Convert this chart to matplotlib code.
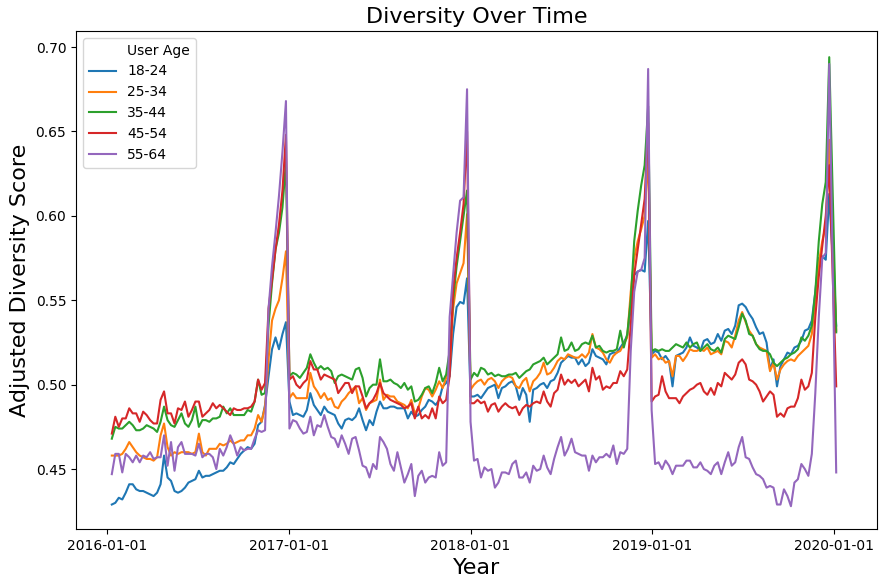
import matplotlib
matplotlib.use("Agg")
import matplotlib.pyplot as plt
import matplotlib.dates as mdates
from matplotlib.lines import Line2D
import pandas as pd

dates = pd.date_range("2016-01-11", periods=209, freq="7D")
legend_title = "User Age"
labels = ["18-24", "25-34", "35-44", "45-54", "55-64"]

age_18_24 = [
    .429, .430, .433, .432, .436, .441, .441, .438, .437, .437,
    .436, .435, .434, .436, .441, .458, .445, .443, .437, .436,
    .437, .439, .442, .443, .444, .449, .445, .446, .446, .447,
    .448, .449, .449, .451, .454, .453, .456, .459, .461, .463,
    .462, .465, .476, .478, .488, .505, .521, .528, .521, .530,
    .537, .490, .482, .483, .482, .481, .485, .495, .488, .485,
    .482, .487, .484, .483, .482, .477, .474, .479, .480, .479,
    .481, .486, .479, .473, .479, .476, .484, .490, .486, .486,
    .487, .487, .486, .486, .486, .480, .484, .481, .482, .485,
    .487, .491, .490, .488, .491, .499, .501, .505, .530, .546,
    .549, .548, .563, .493, .493, .494, .492, .495, .498, .499,
    .500, .492, .498, .499, .501, .502, .499, .491, .498, .494,
    .478, .497, .498, .500, .501, .498, .502, .503, .507, .513,
    .515, .517, .516, .516, .512, .515, .511, .513, .521, .517,
    .516, .515, .512, .518, .519, .519, .522, .525, .529, .545,
    .565, .567, .568, .567, .597, .518, .520, .519, .515, .517,
    .514, .499, .517, .518, .519, .522, .528, .523, .522, .520,
    .526, .527, .524, .525, .530, .526, .532, .533, .530, .535,
    .547, .548, .546, .542, .539, .534, .530, .531, .525, .509,
    .515, .499, .511, .515, .519, .518, .522, .523, .526, .532,
    .533, .538, .555, .575, .576, .574, .613, .575, .535,
]

age_25_34 = [
    .458, .458, .458, .459, .462, .466, .463, .460, .458, .457,
    .456, .456, .455, .457, .470, .477, .463, .458, .460, .459,
    .460, .460, .460, .459, .460, .471, .460, .458, .462, .462,
    .462, .465, .464, .465, .467, .465, .466, .467, .467, .470,
    .470, .474, .482, .478, .487, .515, .538, .545, .550, .563,
    .579, .492, .495, .492, .492, .492, .492, .507, .499, .496,
    .492, .495, .491, .492, .487, .486, .490, .492, .495, .497,
    .499, .489, .492, .485, .489, .490, .491, .503, .491, .494,
    .493, .493, .490, .489, .488, .486, .491, .483, .486, .493,
    .498, .497, .493, .497, .502, .498, .504, .510, .545, .560,
    .566, .572, .601, .497, .500, .502, .503, .500, .503, .504,
    .502, .498, .502, .504, .505, .504, .499, .498, .502, .504,
    .496, .502, .504, .507, .513, .506, .507, .510, .514, .516,
    .515, .518, .517, .516, .516, .518, .516, .519, .530, .522,
    .521, .519, .515, .513, .517, .519, .520, .524, .528, .555,
    .575, .585, .592, .600, .637, .516, .518, .515, .516, .513,
    .514, .505, .517, .517, .514, .517, .521, .520, .520, .521,
    .520, .522, .518, .519, .520, .518, .526, .525, .522, .529,
    .538, .543, .537, .532, .529, .524, .522, .521, .520, .508,
    .513, .503, .509, .512, .514, .515, .514, .517, .519, .521,
    .523, .530, .550, .572, .585, .594, .645, .590, .532,
]

age_35_44 = [
    .468, .475, .474, .474, .476, .478, .476, .473, .473, .474,
    .476, .475, .474, .472, .478, .487, .479, .476, .475, .479,
    .483, .477, .475, .479, .487, .475, .479, .479, .478, .480,
    .480, .481, .487, .483, .486, .482, .482, .482, .482, .485,
    .484, .490, .503, .494, .495, .535, .560, .580, .590, .605,
    .632, .505, .507, .506, .504, .507, .510, .518, .513, .509,
    .511, .509, .510, .508, .501, .505, .506, .505, .504, .503,
    .509, .510, .504, .493, .498, .500, .500, .515, .502, .502,
    .503, .501, .500, .498, .501, .497, .499, .490, .491, .494,
    .498, .499, .495, .501, .510, .502, .506, .520, .550, .570,
    .585, .600, .615, .503, .507, .505, .510, .509, .506, .507,
    .505, .506, .505, .505, .506, .506, .507, .504, .506, .508,
    .509, .512, .513, .514, .516, .512, .514, .516, .518, .528,
    .520, .521, .525, .520, .521, .524, .525, .524, .529, .522,
    .523, .520, .519, .520, .520, .521, .532, .522, .530, .550,
    .585, .603, .618, .630, .665, .520, .521, .520, .521, .520,
    .520, .522, .524, .523, .522, .525, .522, .524, .525, .520,
    .522, .524, .521, .520, .522, .519, .527, .529, .528, .527,
    .534, .542, .538, .530, .529, .524, .521, .520, .520, .518,
    .513, .511, .513, .515, .516, .518, .519, .521, .528, .526,
    .529, .535, .555, .585, .607, .620, .694, .612, .531,
]

age_45_54 = [
    .471, .481, .475, .480, .480, .486, .483, .483, .478, .484,
    .482, .479, .477, .477, .491, .496, .483, .483, .477, .486,
    .485, .490, .481, .485, .490, .490, .481, .483, .485, .489,
    .486, .488, .486, .484, .482, .486, .485, .485, .486, .486,
    .487, .490, .503, .497, .501, .545, .562, .580, .595, .615,
    .648, .503, .505, .500, .498, .501, .503, .514, .509, .509,
    .503, .506, .505, .504, .503, .495, .498, .501, .501, .495,
    .499, .499, .493, .486, .489, .491, .495, .501, .495, .493,
    .491, .490, .489, .488, .486, .487, .489, .480, .487, .480,
    .482, .480, .486, .480, .493, .489, .491, .505, .556, .575,
    .590, .607, .650, .489, .489, .491, .489, .490, .484, .488,
    .489, .484, .487, .489, .487, .486, .487, .482, .486, .488,
    .487, .489, .490, .489, .496, .490, .487, .495, .497, .506,
    .500, .503, .501, .503, .499, .501, .503, .496, .510, .503,
    .505, .497, .499, .498, .501, .501, .508, .505, .509, .535,
    .565, .580, .595, .610, .655, .490, .493, .494, .505, .496,
    .492, .492, .492, .489, .493, .495, .497, .498, .500, .501,
    .496, .494, .498, .494, .501, .499, .507, .505, .503, .506,
    .513, .515, .512, .503, .502, .500, .496, .490, .493, .496,
    .494, .481, .483, .481, .486, .487, .487, .492, .503, .497,
    .499, .507, .540, .564, .582, .600, .630, .565, .499,
]

age_55_64 = [
    .447, .459, .459, .448, .459, .457, .454, .458, .454, .458,
    .457, .460, .456, .457, .457, .470, .452, .466, .449, .463,
    .466, .459, .459, .459, .458, .465, .457, .459, .459, .457,
    .450, .462, .458, .463, .470, .465, .458, .463, .461, .462,
    .462, .468, .473, .472, .473, .545, .570, .590, .612, .638,
    .668, .474, .479, .478, .474, .471, .472, .481, .470, .476,
    .475, .482, .475, .469, .468, .463, .470, .465, .459, .468,
    .469, .461, .452, .451, .445, .453, .450, .469, .466, .462,
    .453, .449, .460, .451, .442, .447, .453, .434, .446, .449,
    .442, .445, .446, .445, .460, .452, .454, .540, .565, .590,
    .609, .611, .675, .478, .455, .456, .445, .451, .449, .450,
    .439, .442, .448, .448, .447, .453, .455, .445, .445, .448,
    .442, .452, .449, .450, .458, .451, .447, .456, .463, .469,
    .458, .462, .468, .460, .459, .458, .458, .449, .458, .454,
    .457, .457, .459, .457, .464, .453, .460, .459, .462, .520,
    .555, .567, .568, .575, .687, .485, .453, .454, .450, .455,
    .452, .447, .452, .452, .452, .455, .455, .451, .451, .454,
    .450, .449, .447, .452, .454, .447, .454, .460, .452, .454,
    .463, .469, .457, .456, .451, .447, .446, .444, .439, .440,
    .439, .429, .429, .438, .434, .428, .442, .444, .453, .450,
    .446, .459, .495, .540, .575, .578, .690, .570, .448,
]

series = [age_18_24, age_25_34, age_35_44, age_45_54, age_55_64]

fig = plt.figure(figsize=(8.83, 5.88), dpi=100)
ax = fig.add_axes([76 / 883, 59 / 588, 801 / 883, 498 / 588])
handles = [Line2D([], [], color="w", linewidth=0)]
for lab, vals in zip(labels, series):
    (ln,) = ax.plot(dates, vals, label=lab, linewidth=1.5)
    handles.append(ln)

x_left = dates[0] - pd.Timedelta(days=72)
ax.set_xlim(x_left, x_left + pd.Timedelta(days=1610))
ax.set_ylim(0.4145, 0.7095)
ax.xaxis.set_major_locator(mdates.YearLocator())
ax.xaxis.set_major_formatter(mdates.DateFormatter("%Y-%m-%d"))
ax.set_title("Diversity Over Time", fontsize=16)
ax.set_xlabel("Year", fontsize=16)
ax.set_ylabel("Adjusted Diversity Score", fontsize=16)
ax.legend(handles, [legend_title] + labels, loc="upper left")
fig.savefig("out.png", dpi=100)
